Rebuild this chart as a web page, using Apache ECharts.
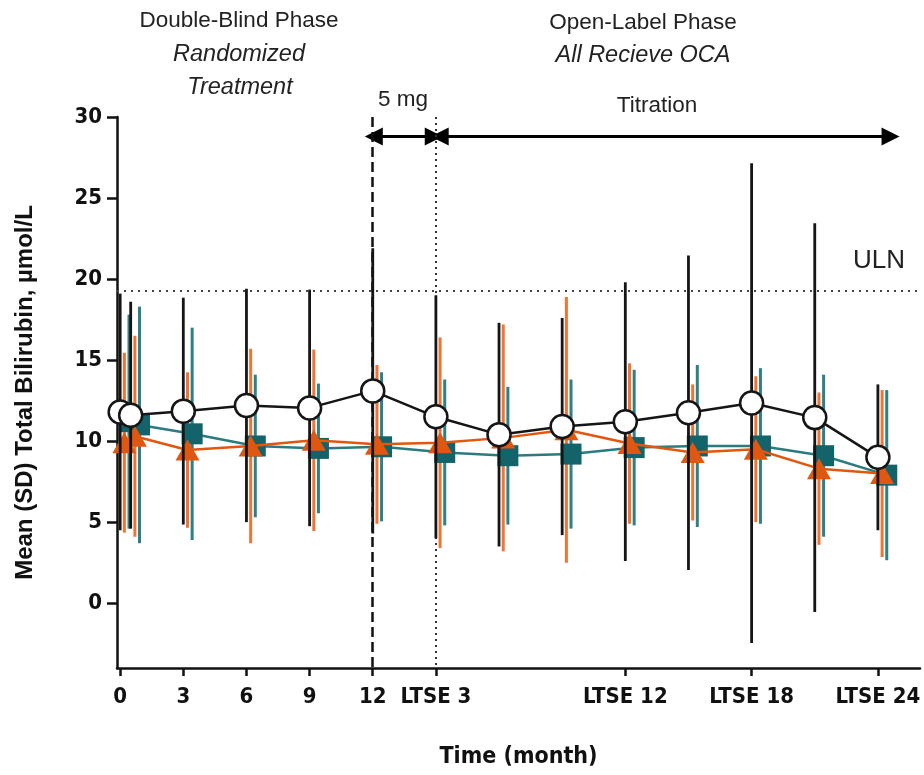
<!DOCTYPE html>
<html><head><meta charset="utf-8">
<script src="https://cdn.jsdelivr.net/npm/echarts@6/dist/echarts.min.js"></script>
<style>html,body{margin:0;padding:0;background:#fff}#c{width:924px;height:775px}</style>
</head><body><div id="c"></div>
<script>
// ---- data ----
const months = [0, 0.5, 3, 6, 9, 12, 15, 18, 21, 24, 27, 30, 33, 36];
const xTickValues = [0, 3, 6, 9, 12, 15, 24, 30, 36];
const xTickLabels = ['0', '3', '6', '9', '12', 'LTSE 3', 'LTSE 12', 'LTSE 18', 'LTSE 24'];
const yTickValues = [0, 5, 10, 15, 20, 25, 30];
const blackMean  = [11.8, 11.6, 11.85, 12.2, 12.05, 13.1, 11.5, 10.4, 10.9, 11.2, 11.75, 12.35, 11.45, 9.0];
const blackSD    = [7.3, 7.0, 7.0, 7.2, 7.3, 8.8, 7.5, 6.9, 6.7, 8.6, 9.7, 14.8, 12.0, 4.5];
const orangeMean = [9.9, 10.3, 9.45, 9.7, 10.05, 9.8, 9.9, 10.2, 10.7, 9.85, 9.3, 9.5, 8.3, 8.0];
const orangeSD   = [5.55, 6.2, 4.8, 6.0, 5.6, 4.9, 6.5, 7.0, 8.2, 4.95, 4.2, 4.5, 4.7, 5.15];
const tealMean   = [11.2, 11.0, 10.45, 9.7, 9.55, 9.65, 9.3, 9.1, 9.2, 9.6, 9.7, 9.7, 9.1, 7.9];
const tealSD     = [6.6, 7.3, 6.55, 4.4, 4.0, 4.6, 4.5, 4.25, 4.6, 4.8, 5.0, 4.8, 5.0, 5.25];
const ulnValue = 19.3;
const phaseBoundaries = [12, 15];      // end of double-blind, end of 5 mg period
const titrationEnd = 36.6;
const arrowLevel = 28.8;

// ---- styles ----
const OFF_ORANGE = 0.2, OFF_TEAL = 0.42;
const BLACK = '#151515', ORANGE = '#e2570f', ORANGE_BAR = '#ee7535', TEAL = '#13636a', TEAL_LINE = '#2a7a80', TEAL_BAR = '#2e8087';
const narrow = 'DejaVu Sans Condensed';

function errSeries(mean, sd, off, color, width, z) {
  return {
    type: 'custom', z: z, silent: true, clip: false,
    data: months.map((m, i) => [m + off, mean[i] - sd[i], mean[i] + sd[i]]),
    encode: { x: 0, y: [1, 2] },
    renderItem: function (params, api) {
      const p1 = api.coord([api.value(0), api.value(1)]);
      const p2 = api.coord([api.value(0), api.value(2)]);
      return { type: 'line', shape: { x1: p1[0], y1: p1[1], x2: p2[0], y2: p2[1] },
               style: { stroke: color, lineWidth: width } };
    }
  };
}
function lineSeries(mean, off, symbol, size, fill, border, lineColor, z) {
  return {
    type: 'line', z: z, silent: true, clip: false,
    data: months.map((m, i) => [m + off, mean[i]]),
    symbol: symbol, symbolSize: size, showAllSymbol: true,
    itemStyle: { color: fill, borderColor: border, borderWidth: border === fill ? 0 : 2.5, opacity: 1 },
    lineStyle: { color: lineColor, width: 2.5 }
  };
}

const chart = echarts.init(document.getElementById('c'), null, { renderer: 'canvas' });
const blackLine = lineSeries(blackMean, 0, 'circle', 23, '#ffffff', BLACK, BLACK, 7);
blackLine.markLine = {
  silent: true, symbol: 'none', label: { show: false }, animation: false,
  data: [
    { yAxis: ulnValue, lineStyle: { type: [2, 5], color: '#444', width: 2 } },
    [{ coord: [phaseBoundaries[0], 30], lineStyle: { type: [10, 5], color: '#111', width: 2.5 } },
     { coord: [phaseBoundaries[0], -4] }],
    [{ coord: [phaseBoundaries[1], 30], lineStyle: { type: [2, 4], color: '#333', width: 2 } },
     { coord: [phaseBoundaries[1], -4] }]
  ]
};
const blackBars = errSeries(blackMean, blackSD, 0, BLACK, 2.8, 6);
blackBars.markLine = {
  silent: true, symbol: ['triangle', 'triangle'], symbolSize: 18, label: { show: false }, animation: false,
  lineStyle: { type: 'solid', color: '#000', width: 3 },
  data: [
    [{ coord: [phaseBoundaries[0] + 0.05, arrowLevel] }, { coord: [phaseBoundaries[1] - 0.1, arrowLevel] }],
    [{ coord: [phaseBoundaries[1] + 0.18, arrowLevel] }, { coord: [titrationEnd, arrowLevel] }]
  ]
};

const txt = (text, x, y, size, italic) => ({
  type: 'text', x: x, y: y, silent: true,
  style: { text: text, fontFamily: 'Liberation Sans', fontSize: size, fontStyle: italic ? 'italic' : 'normal',
           fill: '#222', align: 'center', verticalAlign: 'middle' }
});

chart.setOption({
  animation: false,
  backgroundColor: '#fff',
  grid: { left: 117, right: 4, top: 117, bottom: 107 },
  xAxis: {
    type: 'value', min: -0.15, max: 38,
    splitLine: { show: false },
    axisLine: { onZero: false, lineStyle: { color: '#111', width: 2.5 } },
    axisTick: { customValues: xTickValues, length: 8, lineStyle: { color: '#111', width: 2.5 } },
    axisLabel: { customValues: xTickValues, formatter: v => xTickLabels[xTickValues.indexOf(v)],
                 fontFamily: narrow, fontWeight: 'bold', fontSize: 22, color: '#111', margin: 18 },
    name: 'Time (month)', nameLocation: 'middle', nameGap: 78,
    nameTextStyle: { fontFamily: narrow, fontWeight: 'bold', fontSize: 23, color: '#111' }
  },
  yAxis: {
    type: 'value', min: -4, max: 30,
    splitLine: { show: false },
    axisLine: { show: true, onZero: false, lineStyle: { color: '#111', width: 2.5 } },
    axisTick: { show: true, customValues: yTickValues, length: 10, lineStyle: { color: '#111', width: 2.5 } },
    axisLabel: { customValues: yTickValues, fontFamily: narrow, fontWeight: 'bold', fontSize: 22, color: '#111', margin: 15 },
    name: 'Mean (SD) Total Bilirubin, µmol/L', nameLocation: 'middle', nameGap: 80, nameRotate: 90,
    nameTextStyle: { fontFamily: 'Liberation Sans', fontWeight: 'bold', fontSize: 24, color: '#111' }
  },
  graphic: [
    txt('Double-Blind Phase', 239, 21, 22.5, false),
    txt('Randomized', 239, 54, 23.5, true),
    txt('Treatment', 240, 87, 23.5, true),
    txt('Open-Label Phase', 643, 23, 22.5, false),
    txt('All Recieve OCA', 643, 55, 23.5, true),
    txt('5 mg', 403, 100, 22.5, false),
    txt('Titration', 657, 106, 22.5, false),
    txt('ULN', 879, 261, 26, false)
  ],
  series: [
    errSeries(tealMean, tealSD, OFF_TEAL, TEAL_BAR, 3, 2),
    errSeries(orangeMean, orangeSD, OFF_ORANGE, ORANGE_BAR, 3, 3),
    lineSeries(tealMean, OFF_TEAL, 'rect', 21, TEAL, TEAL, TEAL_LINE, 4),
    lineSeries(orangeMean, OFF_ORANGE, 'triangle', [24, 21], ORANGE, ORANGE, ORANGE, 5),
    blackBars,
    blackLine
  ]
});
</script>
</body></html>
